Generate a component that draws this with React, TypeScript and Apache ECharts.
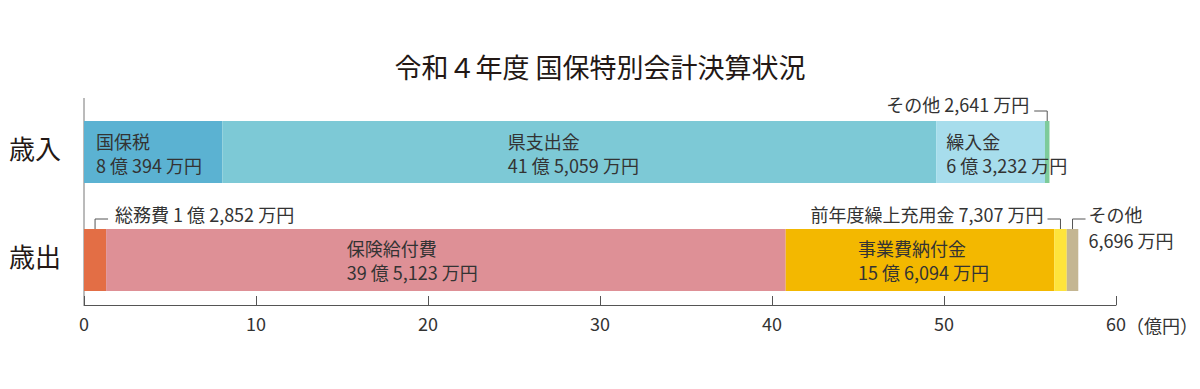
import React, { useEffect, useRef } from "react";
import * as echarts from "echarts";

const titleText = "令和４年度 国保特別会計決算状況";
const categories = ["歳入", "歳出"];
const revenueNames = ["国保税", "県支出金", "繰入金", "その他"];
const revenueValues = [8.0394, 41.5059, 6.3232, 0.2641];
const revenueLabels = ["8億394万円", "41億5,059万円", "6億3,232万円", "2,641万円"];
const revenueColors = ["#5BB2D2", "#7DC9D6", "#A7DDEC", "#7DCB9A"];
const expenseNames = ["総務費", "保険給付費", "事業費納付金", "前年度繰上充用金", "その他"];
const expenseValues = [1.2852, 39.5123, 15.6094, 0.7307, 0.6696];
const expenseLabels = ["1億2,852万円", "39億5,123万円", "15億6,094万円", "7,307万円", "6,696万円"];
const expenseColors = ["#E36E45", "#DE9096", "#F3B800", "#FEE43C", "#C4B692"];
const xTicks = [0, 10, 20, 30, 40, 50, 60];
const unitText = "（億円）";

const FONT = "'Noto Sans CJK JP', 'Noto Sans', sans-serif";
const TXT = "#333333";
const LINE = "#555555";
const BAR_W = 62;

// Japanese typesetting spacing between numerals and kanji
const spaced = (s: string) => s.replace(/(\d)(億|万)/g, "$1 $2").replace(/億(\d)/g, "億 $1");

// label placement inside bars (null = outside label with leader)
const revenueInside: (null | [string | number, number])[] = [[12, 8], ["40%", 8], [10, 8], null];
const expenseInside: (null | [string | number, number])[] = [null, ["35.4%", 7], ["26.9%", 7], null, null];

export default function App() {
  const ref = useRef<HTMLDivElement>(null);
  useEffect(() => {
    if (!ref.current) return;
    const chart = echarts.init(ref.current, null, { renderer: "svg" });
    const mkLabel = (pos: any, name: string, val: string) =>
      pos
        ? {
            show: true,
            position: pos,
            formatter: name + "\n" + spaced(val),
            fontSize: 18,
            lineHeight: 24,
            color: TXT,
            fontFamily: FONT,
            align: "left",
            verticalAlign: "top",
          }
        : { show: false };
    const series: any[] = [];
    revenueNames.forEach((n, i) => {
      series.push({
        name: "rev" + i,
        type: "bar",
        stack: "total",
        barWidth: BAR_W,
        data: [revenueValues[i], "-"],
        itemStyle: { color: revenueColors[i] },
        label: mkLabel(revenueInside[i], n, revenueLabels[i]),
      });
    });
    expenseNames.forEach((n, i) => {
      series.push({
        name: "exp" + i,
        type: "bar",
        stack: "total",
        barWidth: BAR_W,
        data: ["-", expenseValues[i]],
        itemStyle: { color: expenseColors[i] },
        label: mkLabel(expenseInside[i], n, expenseLabels[i]),
      });
    });

    chart.setOption({
      animation: false,
      textStyle: { fontFamily: FONT },
      title: {
        text: titleText,
        left: "center",
        top: 48,
        textStyle: { fontSize: 27, fontWeight: "normal", color: "#231815", fontFamily: FONT },
      },
      grid: { left: 84, right: 84, top: 98, height: 216 },
      xAxis: {
        type: "value",
        min: xTicks[0],
        max: xTicks[xTicks.length - 1],
        interval: 10,
        offset: -9,
        axisLine: { show: true, lineStyle: { color: LINE, width: 1 } },
        axisTick: { show: true, inside: true, length: 9, lineStyle: { color: LINE } },
        axisLabel: { fontSize: 18, color: TXT, margin: 9, fontFamily: FONT },
        splitLine: { show: false },
      },
      yAxis: {
        type: "category",
        data: categories,
        inverse: true,
        axisLine: { show: false },
        axisTick: { show: false },
        axisLabel: {
          margin: 23,
          formatter: (v: string) => "{c|" + v + "}",
          rich: { c: { fontSize: 26, color: "#231815", fontFamily: FONT, padding: [0, 0, 10, 0] } },
        },
      },
      series,
    });

    // annotations computed from data through the axes
    const px = (v: number) => chart.convertToPixel({ xAxisIndex: 0 }, v) as number;
    const py = (c: string) => chart.convertToPixel({ yAxisIndex: 0 }, c) as number;
    const x0 = px(0);
    const yTop = 98;
    const yAxisBottom = 98 + 216 - 9;
    const g: any[] = [];
    g.push({
      type: "line",
      shape: { x1: x0, y1: yTop, x2: x0, y2: yAxisBottom },
      style: { stroke: "#777777", lineWidth: 1 },
      silent: true,
    });
    g.push({
      type: "text",
      x: px(60) + 10,
      y: yAxisBottom + 20,
      style: { text: unitText, fontSize: 18, fill: TXT, fontFamily: FONT, textAlign: "left", textVerticalAlign: "middle" },
    });

    const cum = (vals: number[], i: number) => vals.slice(0, i).reduce((a, b) => a + b, 0);
    const textStyle = (text: string, align: string) => ({
      text,
      fontSize: 18,
      fill: TXT,
      fontFamily: FONT,
      textAlign: align,
      textVerticalAlign: "middle",
    });
    const leader = (xm: number, barTop: number, dir: number) => {
      const yl = barTop - 10;
      g.push({
        type: "polyline",
        shape: { points: [[xm, barTop + 8], [xm, yl], [xm + dir * 13, yl]] },
        style: { stroke: LINE, lineWidth: 1, fill: "none" },
        silent: true,
      });
      return yl;
    };

    // revenue other
    {
      const i = 3;
      const xm = px(cum(revenueValues, i) + revenueValues[i] / 2);
      const barTop = py(categories[0]) - BAR_W / 2;
      const yl = leader(xm, barTop, -1);
      g.push({ type: "text", x: xm - 18, y: yl - 7, style: textStyle(revenueNames[i] + " " + spaced(revenueLabels[i]), "right") });
    }
    const expTop = py(categories[1]) - BAR_W / 2;
    // 総務費
    {
      const i = 0;
      const xm = px(cum(expenseValues, i) + expenseValues[i] / 2);
      const yl = leader(xm, expTop, 1);
      g.push({ type: "text", x: xm + 20, y: yl - 5, style: textStyle(expenseNames[i] + " " + spaced(expenseLabels[i]), "left") });
    }
    // 前年度繰上充用金
    {
      const i = 3;
      const xm = px(cum(expenseValues, i) + expenseValues[i] / 2);
      const yl = leader(xm, expTop, -1);
      g.push({ type: "text", x: xm - 17, y: yl - 5, style: textStyle(expenseNames[i] + " " + spaced(expenseLabels[i]), "right") });
    }
    // その他
    {
      const i = 4;
      const xm = px(cum(expenseValues, i) + expenseValues[i] / 2);
      const yl = leader(xm, expTop, 1);
      g.push({ type: "text", x: xm + 16, y: yl - 5, style: textStyle(expenseNames[i], "left") });
      g.push({ type: "text", x: xm + 16, y: yl + 21, style: textStyle(spaced(expenseLabels[i]), "left") });
    }
    chart.setOption({ graphic: g });

    return () => chart.dispose();
  }, []);
  return <div ref={ref} style={{ width: 1200, height: 389, position: "absolute", left: 0, top: 0 }} />;
}
